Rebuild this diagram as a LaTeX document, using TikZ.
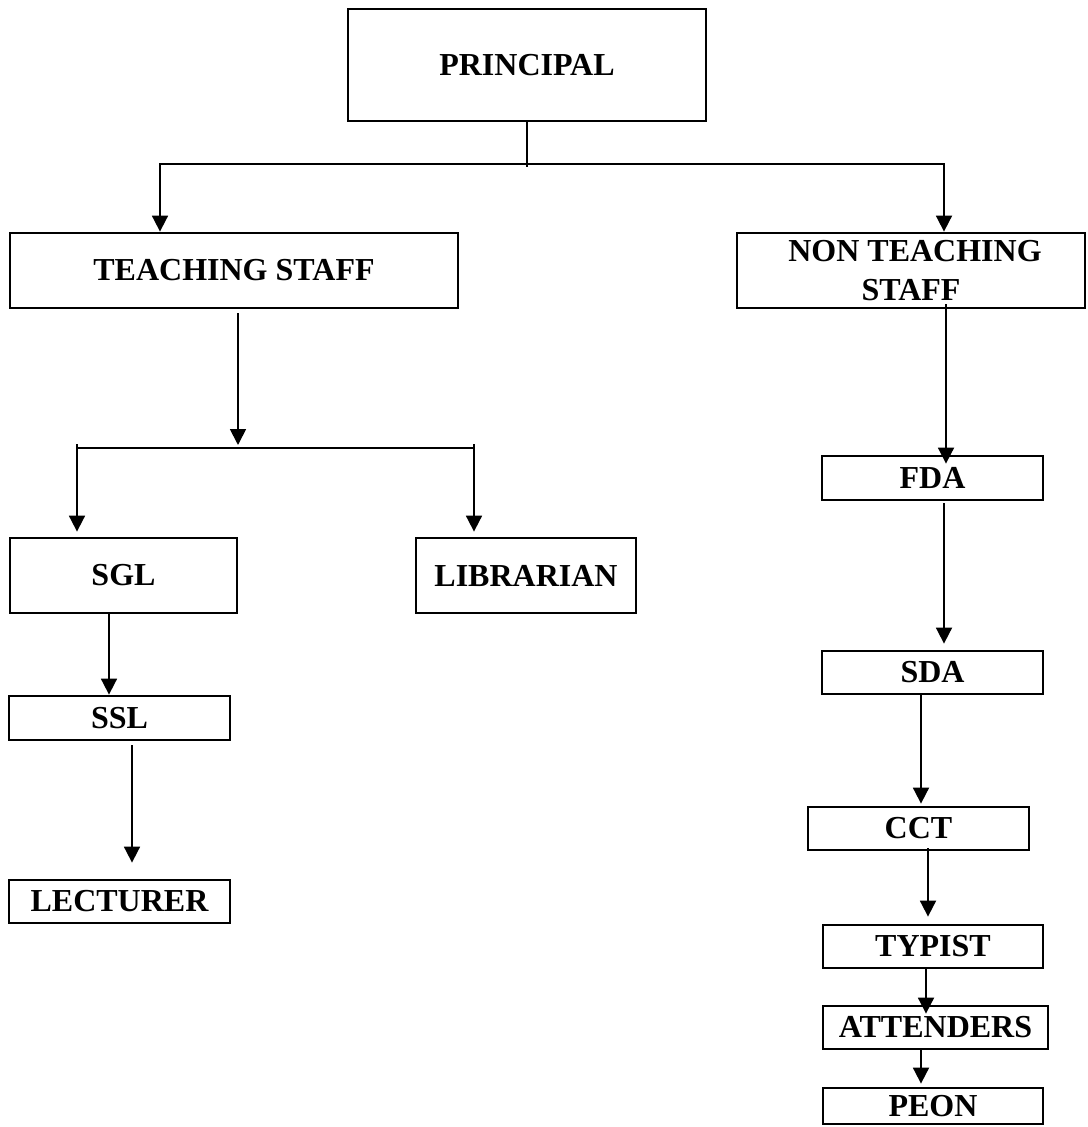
\documentclass[tikz,border=0pt]{standalone}
\usepackage{fontspec}
\setmainfont{Liberation Serif}
\usetikzlibrary{arrows.meta}
\begin{document}
\begin{tikzpicture}[x=1pt,y=-1pt,
  box/.style={draw, line width=2.8pt, inner sep=0pt, font=\fontsize{32}{39}\selectfont\bfseries, align=center},
  conn/.style={line width=1.8pt},
  arrow/.style={conn, -{Triangle[length=16pt,width=16pt]}}]
\useasboundingbox (0,0) rectangle (1087,1127);
% nodes
\node[box, minimum width=358pt, minimum height=112pt] (principal) at (527,65) {PRINCIPAL};
\node[box, minimum width=448pt, minimum height=75pt] (teach) at (234,270.5) {TEACHING STAFF};
\node[box, minimum width=348pt, minimum height=75pt] (nts) at (911,270.5) {\hspace*{8pt}NON TEACHING\\STAFF};
\node[box, minimum width=227pt, minimum height=75pt] (sgl) at (123.5,575.5) {SGL};
\node[box, minimum width=220pt, minimum height=75pt] (lib) at (526,575.5) {LIBRARIAN};
\node[box, minimum width=221pt, minimum height=44pt] (ssl) at (119.5,718) {SSL};
\node[box, minimum width=221pt, minimum height=43pt] (lec) at (119.5,901.5) {LECTURER};
\node[box, minimum width=221pt, minimum height=44pt] (fda) at (932.5,478) {FDA};
\node[box, minimum width=221pt, minimum height=43pt] (sda) at (932.5,672.5) {SDA};
\node[box, minimum width=221pt, minimum height=43pt] (cct) at (918.5,828.5) {CCT};
\node[box, minimum width=220pt, minimum height=43pt] (typ) at (933,946.5) {TYPIST};
\node[box, minimum width=225pt, minimum height=43pt] (att) at (935.5,1027.5) {ATTENDERS};
\node[box, minimum width=220pt, minimum height=36pt] (peon) at (933,1106) {PEON};
% junctions
\coordinate (jp) at (527,164);
\coordinate (jl) at (160,164);
\coordinate (jr) at (944,164);
\coordinate (tj) at (238,445);
\coordinate (tl) at (77,448);
\coordinate (tr) at (474,448);
% connectors
\draw[conn] (principal.south) -- ([yshift=-3pt]jp);
\draw[arrow] (jp) -| (teach.north -| jl);
\draw[arrow] (jp) -| (nts.north -| jr);
\draw[arrow] (teach.south -| tj) ++(0,4) -- (tj);
\draw[conn] (tl) -- (tr);
\draw[arrow] ([yshift=4pt]tl) -- ([yshift=5pt]sgl.north -| tl);
\draw[arrow] ([yshift=4pt]tr) -- ([yshift=5pt]lib.north -| tr);
\draw[arrow] ([xshift=-14.5pt]sgl.south) -- ([xshift=-10.5pt]ssl.north);
\draw[arrow] ([xshift=12.5pt,yshift=-4pt]ssl.south) -- ([xshift=12.5pt,yshift=16pt]lec.north);
\draw[arrow] ([xshift=35pt,yshift=5pt]nts.south) -- ([xshift=13.5pt,yshift=-9pt]fda.north);
\draw[arrow] ([xshift=11.5pt,yshift=-2pt]fda.south) -- ([xshift=11.5pt,yshift=6pt]sda.north);
\draw[arrow] ([xshift=-11.5pt]sda.south) -- ([xshift=2.5pt,yshift=2pt]cct.north);
\draw[arrow] ([xshift=9.5pt,yshift=3pt]cct.south) -- ([xshift=-5pt,yshift=7pt]typ.north);
\draw[arrow] ([xshift=-7pt]typ.south) -- ([xshift=-9.5pt,yshift=-9pt]att.north);
\draw[arrow] ([xshift=-14.5pt]att.south) -- ([xshift=-12pt,yshift=3pt]peon.north);
\end{tikzpicture}
\end{document}
